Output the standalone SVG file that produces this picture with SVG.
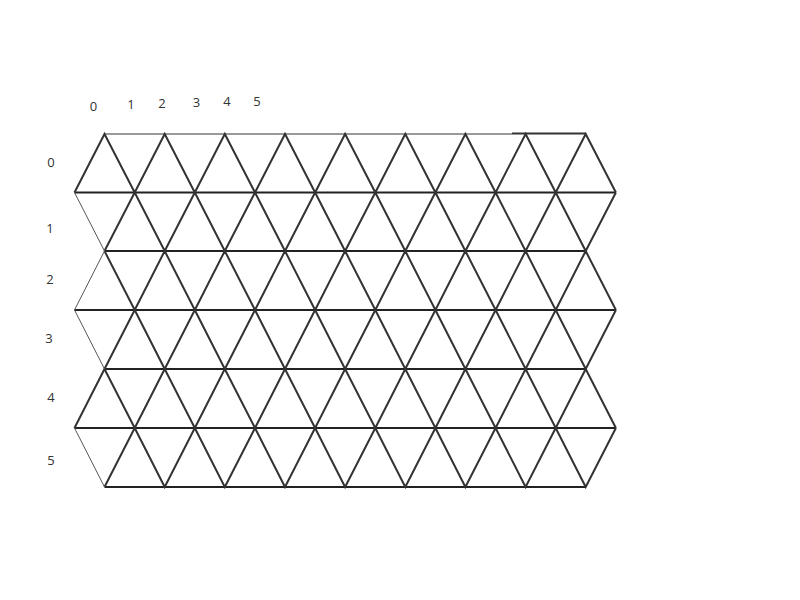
<svg xmlns="http://www.w3.org/2000/svg" width="800" height="600" viewBox="0 0 800 600">
<style>
.lbl{font-family:"Open Sans","Liberation Sans",sans-serif;font-size:13px;fill:#333;text-anchor:middle}
.h{stroke:#222;stroke-width:2.2;fill:none}
.d{stroke:#333;stroke-width:2;fill:none;stroke-linejoin:miter}
.t{stroke:#555;stroke-width:1;fill:none}
</style>
<rect width="800" height="600" fill="#fff"/>
<g id="col-labels">
<text class="lbl" x="93.5" y="111">0</text>
<text class="lbl" x="131" y="109">1</text>
<text class="lbl" x="162" y="108">2</text>
<text class="lbl" x="196.5" y="107">3</text>
<text class="lbl" x="227" y="106">4</text>
<text class="lbl" x="257" y="106">5</text>
</g>
<g id="row-labels">
<text class="lbl" x="51" y="167">0</text>
<text class="lbl" x="50" y="233">1</text>
<text class="lbl" x="50" y="284">2</text>
<text class="lbl" x="49" y="342.5">3</text>
<text class="lbl" x="51" y="401.5">4</text>
<text class="lbl" x="51" y="465">5</text>
</g>
<g id="grid">
<line x1="104.5" y1="134" x2="512" y2="134" stroke="#999" stroke-width="2"/>
<line x1="512" y1="133.5" x2="585.7" y2="133.5" stroke="#333" stroke-width="1.8"/>
<line class="h" x1="74.5" y1="192.5" x2="615.9" y2="192.5"/>
<line class="h" x1="104.5" y1="251" x2="585.7" y2="251"/>
<line class="h" x1="74.5" y1="310" x2="615.9" y2="310"/>
<line class="h" x1="104.5" y1="369" x2="585.7" y2="369"/>
<line class="h" x1="74.5" y1="428" x2="615.9" y2="428"/>
<line class="h" x1="104.5" y1="487" x2="585.7" y2="487"/>
<polyline class="d" points="74.5,192.5 104.5,134 134.7,192.5 164.7,134 194.8,192.5 224.8,134 255,192.5 285,134 315.1,192.5 345.1,134 375.3,192.5 405.3,134 435.4,192.5 465.4,134 495.6,192.5 525.6,134 555.7,192.5 585.7,134 615.9,192.5"/>
<polyline class="d" points="104.5,251 134.7,192.5 164.7,251 194.8,192.5 224.8,251 255,192.5 285,251 315.1,192.5 345.1,251 375.3,192.5 405.3,251 435.4,192.5 465.4,251 495.6,192.5 525.6,251 555.7,192.5 585.7,251 615.9,192.5"/>
<polyline class="d" points="104.5,251 134.7,310 164.7,251 194.8,310 224.8,251 255,310 285,251 315.1,310 345.1,251 375.3,310 405.3,251 435.4,310 465.4,251 495.6,310 525.6,251 555.7,310 585.7,251 615.9,310"/>
<polyline class="d" points="104.5,369 134.7,310 164.7,369 194.8,310 224.8,369 255,310 285,369 315.1,310 345.1,369 375.3,310 405.3,369 435.4,310 465.4,369 495.6,310 525.6,369 555.7,310 585.7,369 615.9,310"/>
<polyline class="d" points="74.5,428 104.5,369 134.7,428 164.7,369 194.8,428 224.8,369 255,428 285,369 315.1,428 345.1,369 375.3,428 405.3,369 435.4,428 465.4,369 495.6,428 525.6,369 555.7,428 585.7,369 615.9,428"/>
<polyline class="d" points="104.5,487 134.7,428 164.7,487 194.8,428 224.8,487 255,428 285,487 315.1,428 345.1,487 375.3,428 405.3,487 435.4,428 465.4,487 495.6,428 525.6,487 555.7,428 585.7,487 615.9,428"/>
<line class="t" x1="74.5" y1="192.5" x2="104.5" y2="251"/>
<line class="t" x1="104.5" y1="251" x2="74.5" y2="310"/>
<line class="t" x1="74.5" y1="310" x2="104.5" y2="369"/>
<line class="t" x1="74.5" y1="428" x2="104.5" y2="487"/>
</g>
</svg>
